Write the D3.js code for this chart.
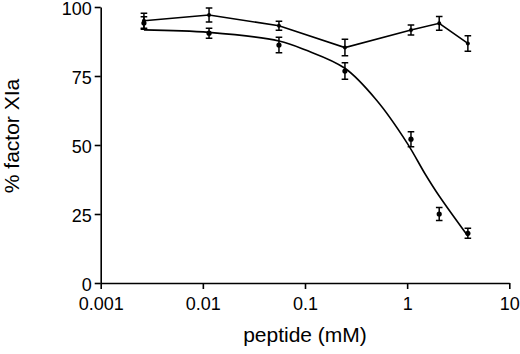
<!DOCTYPE html>
<html>
<head>
<meta charset="utf-8">
<script src="https://cdn.jsdelivr.net/npm/d3@7"></script>
<style>
  html, body { margin: 0; padding: 0; background: #fff; }
  svg { display: block; font-family: "Liberation Sans", Arial, Helvetica, sans-serif; }
</style>
</head>
<body>
<svg id="chart"></svg>
<script>
// peptide concentration (mM) for both series
const conc = [0.00265, 0.0115, 0.0556, 0.246, 1.09, 2.06, 3.93];
// series joined by straight lines
const topMean = [95.0, 97.1, 93.2, 85.3, 91.7, 94.1, 86.8];
const topErr = [2.7, 2.5, 1.6, 3.0, 1.8, 2.5, 2.8];
// series with fitted curve
const botMean = [94.2, 90.5, 86.2, 76.8, 52.1, 25.0, 18.0];
const botErr = [2.3, 1.8, 2.8, 3.0, 2.7, 2.4, 1.8];
// fitted curve
const fitConc = [0.00265, 0.0115, 0.0556, 0.1, 0.246, 0.5, 1.0, 1.5, 2.06, 3.93];
const fitPct = [91.7, 90.8, 87.7, 84.5, 77.8, 66.3, 50.7, 39.5, 31.5, 17.0];

const xTicks = [0.001, 0.01, 0.1, 1, 10];
const xTickLabels = ['0.001', '0.01', '0.1', '1', '10'];
const yTicks = [0, 25, 50, 75, 100];

const [width, height] = [520, 354];
const svg = d3.select('#chart')
  .attr('width', width)
  .attr('height', height);

const x = d3.scaleLog()
  .domain([0.001, 10])
  .range([100.7, 509.3]);
const y = d3.scaleLinear()
  .domain([0, 100])
  .range([283, 7]);

const xAxis = svg.append('g')
  .attr('transform', `translate(0, ${y(0)})`)
  .call(d3.axisBottom(x)
    .tickValues(xTicks)
    .tickFormat((d, i) => xTickLabels[i])
    .tickSize(6)
    .tickSizeOuter(0)
    .tickPadding(8));
const yAxis = svg.append('g')
  .attr('transform', `translate(${x(0.001)}, 0)`)
  .call(d3.axisLeft(y)
    .tickValues(yTicks)
    .tickSize(6)
    .tickSizeOuter(0)
    .tickPadding(3));

[xAxis, yAxis].forEach(g => {
  g.select('.domain').attr('stroke', '#000').attr('stroke-width', 1.6);
  g.selectAll('.tick line').attr('stroke', '#000').attr('stroke-width', 1.6);
  g.selectAll('.tick text')
    .attr('fill', '#000')
    .style('font-size', '18px')
    .style('font-family', '"Liberation Sans", Arial, sans-serif');
});
// nudge y labels down a little so "100" stays inside
yAxis.selectAll('.tick text').attr('dy', '0.42em');

// axis titles
svg.append('text')
  .attr('x', (x.range()[0] + x.range()[1]) / 2)
  .attr('y', 342)
  .attr('text-anchor', 'middle')
  .style('font-size', '21px')
  .text('peptide (mM)');
svg.append('text')
  .attr('transform', 'translate(19, 136) rotate(-90)')
  .attr('text-anchor', 'middle')
  .style('font-size', '21px')
  .text('% factor XIa');

const plot = svg.append('g');

// straight-line series
plot.append('path')
  .datum(conc.map((c, i) => [c, topMean[i]]))
  .attr('fill', 'none')
  .attr('stroke', '#000')
  .attr('stroke-width', 1.6)
  .attr('d', d3.line()
    .x(d => x(d[0]))
    .y(d => y(d[1])));

// fitted curve
plot.append('path')
  .datum(fitConc.map((c, i) => [c, fitPct[i]]))
  .attr('fill', 'none')
  .attr('stroke', '#000')
  .attr('stroke-width', 1.6)
  .attr('d', d3.line()
    .curve(d3.curveCatmullRom.alpha(0.5))
    .x(d => x(d[0]))
    .y(d => y(d[1])));

const drawErr = (means, errs) => {
  const cap = 3.3;
  conc.forEach((c, i) => {
    const px = x(c);
    const lo = y(means[i] - errs[i]);
    const hi = y(means[i] + errs[i]);
    plot.append('path')
      .attr('fill', 'none')
      .attr('stroke', '#000')
      .attr('stroke-width', 1.5)
      .attr('d', `M${px},${lo} L${px},${hi} M${px - cap},${lo} L${px + cap},${lo} M${px - cap},${hi} L${px + cap},${hi}`);
  });
};
drawErr(topMean, topErr);
drawErr(botMean, botErr);

plot.selectAll('circle.top')
  .data(conc.map((c, i) => [c, topMean[i]]))
  .join('circle')
  .attr('class', 'top')
  .attr('cx', d => x(d[0]))
  .attr('cy', d => y(d[1]))
  .attr('r', 2)
  .attr('fill', '#000');

plot.selectAll('circle.bot')
  .data(conc.map((c, i) => [c, botMean[i]]))
  .join('circle')
  .attr('class', 'bot')
  .attr('cx', d => x(d[0]))
  .attr('cy', d => y(d[1]))
  .attr('r', 2.6)
  .attr('fill', '#000');
</script>
</body>
</html>
